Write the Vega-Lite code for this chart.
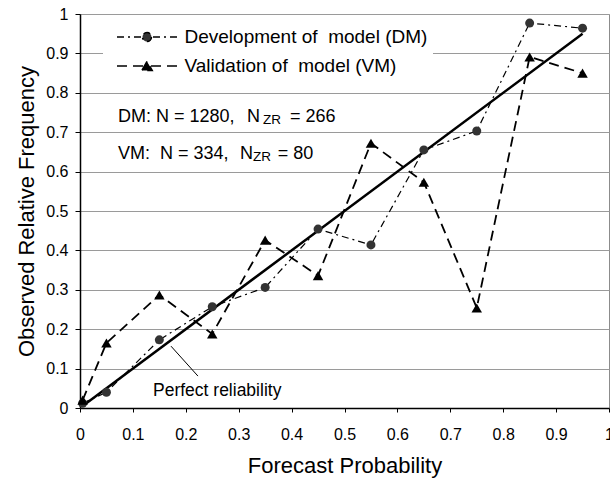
{
  "$schema": "https://vega.github.io/schema/vega-lite/v6.json",
  "width": 529,
  "height": 394,
  "autosize": {"type": "none"},
  "padding": {"left": 80, "top": 14, "right": 1, "bottom": 74},
  "background": "white",
  "config": {
    "font": "Liberation Sans",
    "view": {"stroke": "#8c8c8c", "strokeWidth": 1},
    "axis": {
      "labelFont": "Liberation Sans",
      "labelFontSize": 16,
      "labelColor": "black",
      "titleFont": "Liberation Sans",
      "titleFontSize": 22,
      "titleFontWeight": "normal",
      "titleColor": "black",
      "domainColor": "black",
      "tickColor": "black",
      "gridColor": "#9a9a9a",
      "gridWidth": 1
    }
  },
  "datasets": {
    "obs": [
      {"p": 0.005, "o": 0.012, "s": "DM"},
      {"p": 0.05, "o": 0.04, "s": "DM"},
      {"p": 0.15, "o": 0.173, "s": "DM"},
      {"p": 0.25, "o": 0.257, "s": "DM"},
      {"p": 0.35, "o": 0.306, "s": "DM"},
      {"p": 0.45, "o": 0.454, "s": "DM"},
      {"p": 0.55, "o": 0.414, "s": "DM"},
      {"p": 0.65, "o": 0.655, "s": "DM"},
      {"p": 0.75, "o": 0.703, "s": "DM"},
      {"p": 0.85, "o": 0.977, "s": "DM"},
      {"p": 0.95, "o": 0.964, "s": "DM"},
      {"p": 0.005, "o": 0.02, "s": "VM"},
      {"p": 0.05, "o": 0.165, "s": "VM"},
      {"p": 0.15, "o": 0.287, "s": "VM"},
      {"p": 0.25, "o": 0.188, "s": "VM"},
      {"p": 0.35, "o": 0.426, "s": "VM"},
      {"p": 0.45, "o": 0.336, "s": "VM"},
      {"p": 0.55, "o": 0.672, "s": "VM"},
      {"p": 0.65, "o": 0.573, "s": "VM"},
      {"p": 0.75, "o": 0.254, "s": "VM"},
      {"p": 0.85, "o": 0.891, "s": "VM"},
      {"p": 0.95, "o": 0.85, "s": "VM"}
    ],
    "perfect": [
      {"p": 0.005, "o": 0.005},
      {"p": 0.95, "o": 0.95}
    ]
  },
  "layer": [
    {
      "data": {"name": "obs"},
      "transform": [{"filter": "datum.s === 'DM'"}],
      "mark": {"type": "line", "color": "black", "strokeWidth": 1.2},
      "encoding": {
        "x": {"field": "p", "type": "quantitative", "scale": {"domain": [0, 1], "nice": false},
          "axis": {"title": "Forecast Probability", "values": [0, 0.1, 0.2, 0.3, 0.4, 0.5, 0.6, 0.7, 0.8, 0.9, 1], "format": "~g", "grid": false, "tickSize": 4, "labelPadding": 14, "domainWidth": 1.5, "titleY": 64, "titleBaseline": "alphabetic", "labelFlush": false, "labelOverlap": false}},
        "y": {"field": "o", "type": "quantitative", "scale": {"domain": [0, 1], "nice": false},
          "axis": {"title": "Observed Relative Frequency", "values": [0, 0.1, 0.2, 0.3, 0.4, 0.5, 0.6, 0.7, 0.8, 0.9, 1], "format": "~g", "grid": true, "tickSize": 5, "labelPadding": 7, "domainWidth": 1.5, "titleX": -47, "titleBaseline": "alphabetic", "labelFlush": false, "labelOverlap": false}},
        "strokeDash": {
          "field": "s", "type": "nominal",
          "scale": {"domain": ["DM", "VM"], "range": [[7, 4, 2, 4], [10, 6]]},
          "legend": {
            "orient": "none", "legendX": 23, "legendY": 8.5, "title": null, "direction": "vertical",
            "fillColor": "white", "padding": 5, "rowPadding": 9,
            "symbolSize": 100, "symbolStrokeWidth": 1.5, "symbolStrokeColor": "black",
            "symbolOffset": 29.5, "labelOffset": 28, "labelFontSize": 19, "labelLimit": 0,
            "labelFont": "Liberation Sans", "labelColor": "black",
            "labelExpr": "datum.value === 'DM' ? 'Development of\u00a0 model (DM)' : 'Validation of\u00a0 model (VM)'",
            "encode": {
              "symbols": {
                "update": {
                  "shape": {"signal": "datum.value === 'DM' ? 'M-6,0L-0.9,0M6,0L0.9,0M0.9,0A0.9,0.9,0,1,1,-0.9,0A0.9,0.9,0,1,1,0.9,0Z' : 'M-6,0L-0.5,0M6,0L0.5,0M0,-0.91L-1.05,0.91L1.05,0.91Z'"},
                  "fill": {"signal": "datum.value === 'DM' ? '#333333' : '#000000'"},
                  "stroke": {"value": "black"},
                  "strokeOpacity": {"value": 1},
                  "strokeWidth": {"value": 1.5},
                  "size": {"value": 100},
                  "opacity": {"value": 1}
                }
              }
            }
          }
        }
      }
    },
    {
      "data": {"name": "obs"},
      "transform": [{"filter": "datum.s === 'VM'"}],
      "mark": {"type": "line", "color": "black", "strokeWidth": 1.8},
      "encoding": {
        "x": {"field": "p", "type": "quantitative", "scale": {"domain": [0, 1], "nice": false},
          "axis": {"title": "Forecast Probability", "values": [0, 0.1, 0.2, 0.3, 0.4, 0.5, 0.6, 0.7, 0.8, 0.9, 1], "format": "~g", "grid": false, "tickSize": 4, "labelPadding": 14, "domainWidth": 1.5, "titleY": 64, "titleBaseline": "alphabetic", "labelFlush": false, "labelOverlap": false}},
        "y": {"field": "o", "type": "quantitative", "scale": {"domain": [0, 1], "nice": false},
          "axis": {"title": "Observed Relative Frequency", "values": [0, 0.1, 0.2, 0.3, 0.4, 0.5, 0.6, 0.7, 0.8, 0.9, 1], "format": "~g", "grid": true, "tickSize": 5, "labelPadding": 7, "domainWidth": 1.5, "titleX": -47, "titleBaseline": "alphabetic", "labelFlush": false, "labelOverlap": false}},
        "strokeDash": {
          "field": "s", "type": "nominal",
          "scale": {"domain": ["DM", "VM"], "range": [[7, 4, 2, 4], [10, 6]]},
          "legend": {
            "orient": "none", "legendX": 23, "legendY": 8.5, "title": null, "direction": "vertical",
            "fillColor": "white", "padding": 5, "rowPadding": 9,
            "symbolSize": 100, "symbolStrokeWidth": 1.5, "symbolStrokeColor": "black",
            "symbolOffset": 29.5, "labelOffset": 28, "labelFontSize": 19, "labelLimit": 0,
            "labelFont": "Liberation Sans", "labelColor": "black",
            "labelExpr": "datum.value === 'DM' ? 'Development of\u00a0 model (DM)' : 'Validation of\u00a0 model (VM)'",
            "encode": {
              "symbols": {
                "update": {
                  "shape": {"signal": "datum.value === 'DM' ? 'M-6,0L-0.9,0M6,0L0.9,0M0.9,0A0.9,0.9,0,1,1,-0.9,0A0.9,0.9,0,1,1,0.9,0Z' : 'M-6,0L-0.5,0M6,0L0.5,0M0,-0.91L-1.05,0.91L1.05,0.91Z'"},
                  "fill": {"signal": "datum.value === 'DM' ? '#333333' : '#000000'"},
                  "stroke": {"value": "black"},
                  "strokeOpacity": {"value": 1},
                  "strokeWidth": {"value": 1.5},
                  "size": {"value": 100},
                  "opacity": {"value": 1}
                }
              }
            }
          }
        }
      }
    },
    {
      "data": {"name": "perfect"},
      "mark": {"type": "line", "color": "black", "strokeWidth": 2.5},
      "encoding": {
        "x": {"field": "p", "type": "quantitative", "scale": {"domain": [0, 1], "nice": false},
          "axis": {"title": "Forecast Probability", "values": [0, 0.1, 0.2, 0.3, 0.4, 0.5, 0.6, 0.7, 0.8, 0.9, 1], "format": "~g", "grid": false, "tickSize": 4, "labelPadding": 14, "domainWidth": 1.5, "titleY": 64, "titleBaseline": "alphabetic", "labelFlush": false, "labelOverlap": false}},
        "y": {"field": "o", "type": "quantitative", "scale": {"domain": [0, 1], "nice": false},
          "axis": {"title": "Observed Relative Frequency", "values": [0, 0.1, 0.2, 0.3, 0.4, 0.5, 0.6, 0.7, 0.8, 0.9, 1], "format": "~g", "grid": true, "tickSize": 5, "labelPadding": 7, "domainWidth": 1.5, "titleX": -47, "titleBaseline": "alphabetic", "labelFlush": false, "labelOverlap": false}}
      }
    },
    {
      "data": {"name": "obs"},
      "transform": [{"filter": "datum.s === 'DM'"}],
      "mark": {"type": "point", "filled": true, "opacity": 1, "shape": "circle", "size": 81, "color": "#333333"},
      "encoding": {
        "x": {"field": "p", "type": "quantitative", "scale": {"domain": [0, 1], "nice": false},
          "axis": {"title": "Forecast Probability", "values": [0, 0.1, 0.2, 0.3, 0.4, 0.5, 0.6, 0.7, 0.8, 0.9, 1], "format": "~g", "grid": false, "tickSize": 4, "labelPadding": 14, "domainWidth": 1.5, "titleY": 64, "titleBaseline": "alphabetic", "labelFlush": false, "labelOverlap": false}},
        "y": {"field": "o", "type": "quantitative", "scale": {"domain": [0, 1], "nice": false},
          "axis": {"title": "Observed Relative Frequency", "values": [0, 0.1, 0.2, 0.3, 0.4, 0.5, 0.6, 0.7, 0.8, 0.9, 1], "format": "~g", "grid": true, "tickSize": 5, "labelPadding": 7, "domainWidth": 1.5, "titleX": -47, "titleBaseline": "alphabetic", "labelFlush": false, "labelOverlap": false}}
      }
    },
    {
      "data": {"name": "obs"},
      "transform": [{"filter": "datum.s === 'VM'"}],
      "mark": {"type": "point", "filled": true, "opacity": 1, "shape": "triangle-up", "size": 110, "color": "#000000"},
      "encoding": {
        "x": {"field": "p", "type": "quantitative", "scale": {"domain": [0, 1], "nice": false},
          "axis": {"title": "Forecast Probability", "values": [0, 0.1, 0.2, 0.3, 0.4, 0.5, 0.6, 0.7, 0.8, 0.9, 1], "format": "~g", "grid": false, "tickSize": 4, "labelPadding": 14, "domainWidth": 1.5, "titleY": 64, "titleBaseline": "alphabetic", "labelFlush": false, "labelOverlap": false}},
        "y": {"field": "o", "type": "quantitative", "scale": {"domain": [0, 1], "nice": false},
          "axis": {"title": "Observed Relative Frequency", "values": [0, 0.1, 0.2, 0.3, 0.4, 0.5, 0.6, 0.7, 0.8, 0.9, 1], "format": "~g", "grid": true, "tickSize": 5, "labelPadding": 7, "domainWidth": 1.5, "titleX": -47, "titleBaseline": "alphabetic", "labelFlush": false, "labelOverlap": false}}
      }
    },
    {
      "data": {"values": [{"from": "leader"}]},
      "mark": {"type": "rule", "color": "black", "strokeWidth": 1},
      "encoding": {
        "x": {"datum": 0.172, "type": "quantitative", "scale": {"domain": [0, 1], "nice": false},
          "axis": {"title": "Forecast Probability", "values": [0, 0.1, 0.2, 0.3, 0.4, 0.5, 0.6, 0.7, 0.8, 0.9, 1], "format": "~g", "grid": false, "tickSize": 4, "labelPadding": 14, "domainWidth": 1.5, "titleY": 64, "titleBaseline": "alphabetic", "labelFlush": false, "labelOverlap": false}},
        "y": {"datum": 0.157, "type": "quantitative", "scale": {"domain": [0, 1], "nice": false},
          "axis": {"title": "Observed Relative Frequency", "values": [0, 0.1, 0.2, 0.3, 0.4, 0.5, 0.6, 0.7, 0.8, 0.9, 1], "format": "~g", "grid": true, "tickSize": 5, "labelPadding": 7, "domainWidth": 1.5, "titleX": -47, "titleBaseline": "alphabetic", "labelFlush": false, "labelOverlap": false}},
        "x2": {"datum": 0.223},
        "y2": {"datum": 0.081}
      }
    },
    {
      "data": {"values": [
        {"t": "Perfect reliability", "k": "a"}
      ]},
      "mark": {"type": "text", "align": "left", "baseline": "alphabetic", "fontSize": 17.5, "font": "Liberation Sans", "color": "black"},
      "encoding": {
        "text": {"field": "t"},
        "x": {"datum": 0.138, "type": "quantitative", "scale": {"domain": [0, 1], "nice": false},
          "axis": {"title": "Forecast Probability", "values": [0, 0.1, 0.2, 0.3, 0.4, 0.5, 0.6, 0.7, 0.8, 0.9, 1], "format": "~g", "grid": false, "tickSize": 4, "labelPadding": 14, "domainWidth": 1.5, "titleY": 64, "titleBaseline": "alphabetic", "labelFlush": false, "labelOverlap": false}},
        "y": {"datum": 0.03, "type": "quantitative", "scale": {"domain": [0, 1], "nice": false},
          "axis": {"title": "Observed Relative Frequency", "values": [0, 0.1, 0.2, 0.3, 0.4, 0.5, 0.6, 0.7, 0.8, 0.9, 1], "format": "~g", "grid": true, "tickSize": 5, "labelPadding": 7, "domainWidth": 1.5, "titleX": -47, "titleBaseline": "alphabetic", "labelFlush": false, "labelOverlap": false}}
      }
    },
    {
      "data": {"values": [{"t": "DM: N = 1280,"}]},
      "mark": {"type": "text", "align": "left", "baseline": "alphabetic", "fontSize": 18, "font": "Liberation Sans", "color": "black"},
      "encoding": {
        "text": {"field": "t"},
        "x": {"datum": 0.0718, "type": "quantitative", "scale": {"domain": [0, 1], "nice": false},
          "axis": {"title": "Forecast Probability", "values": [0, 0.1, 0.2, 0.3, 0.4, 0.5, 0.6, 0.7, 0.8, 0.9, 1], "format": "~g", "grid": false, "tickSize": 4, "labelPadding": 14, "domainWidth": 1.5, "titleY": 64, "titleBaseline": "alphabetic", "labelFlush": false, "labelOverlap": false}},
        "y": {"datum": 0.726, "type": "quantitative", "scale": {"domain": [0, 1], "nice": false},
          "axis": {"title": "Observed Relative Frequency", "values": [0, 0.1, 0.2, 0.3, 0.4, 0.5, 0.6, 0.7, 0.8, 0.9, 1], "format": "~g", "grid": true, "tickSize": 5, "labelPadding": 7, "domainWidth": 1.5, "titleX": -47, "titleBaseline": "alphabetic", "labelFlush": false, "labelOverlap": false}}
      }
    },
    {
      "data": {"values": [{"t": "N"}]},
      "mark": {"type": "text", "align": "left", "baseline": "alphabetic", "fontSize": 18, "font": "Liberation Sans", "color": "black"},
      "encoding": {
        "text": {"field": "t"},
        "x": {"datum": 0.3157, "type": "quantitative", "scale": {"domain": [0, 1], "nice": false},
          "axis": {"title": "Forecast Probability", "values": [0, 0.1, 0.2, 0.3, 0.4, 0.5, 0.6, 0.7, 0.8, 0.9, 1], "format": "~g", "grid": false, "tickSize": 4, "labelPadding": 14, "domainWidth": 1.5, "titleY": 64, "titleBaseline": "alphabetic", "labelFlush": false, "labelOverlap": false}},
        "y": {"datum": 0.726, "type": "quantitative", "scale": {"domain": [0, 1], "nice": false},
          "axis": {"title": "Observed Relative Frequency", "values": [0, 0.1, 0.2, 0.3, 0.4, 0.5, 0.6, 0.7, 0.8, 0.9, 1], "format": "~g", "grid": true, "tickSize": 5, "labelPadding": 7, "domainWidth": 1.5, "titleX": -47, "titleBaseline": "alphabetic", "labelFlush": false, "labelOverlap": false}}
      }
    },
    {
      "data": {"values": [{"t": "ZR"}]},
      "mark": {"type": "text", "align": "left", "baseline": "alphabetic", "fontSize": 13.5, "font": "Liberation Sans", "color": "black"},
      "encoding": {
        "text": {"field": "t"},
        "x": {"datum": 0.346, "type": "quantitative", "scale": {"domain": [0, 1], "nice": false},
          "axis": {"title": "Forecast Probability", "values": [0, 0.1, 0.2, 0.3, 0.4, 0.5, 0.6, 0.7, 0.8, 0.9, 1], "format": "~g", "grid": false, "tickSize": 4, "labelPadding": 14, "domainWidth": 1.5, "titleY": 64, "titleBaseline": "alphabetic", "labelFlush": false, "labelOverlap": false}},
        "y": {"datum": 0.721, "type": "quantitative", "scale": {"domain": [0, 1], "nice": false},
          "axis": {"title": "Observed Relative Frequency", "values": [0, 0.1, 0.2, 0.3, 0.4, 0.5, 0.6, 0.7, 0.8, 0.9, 1], "format": "~g", "grid": true, "tickSize": 5, "labelPadding": 7, "domainWidth": 1.5, "titleX": -47, "titleBaseline": "alphabetic", "labelFlush": false, "labelOverlap": false}}
      }
    },
    {
      "data": {"values": [{"t": "= 266"}]},
      "mark": {"type": "text", "align": "left", "baseline": "alphabetic", "fontSize": 18, "font": "Liberation Sans", "color": "black"},
      "encoding": {
        "text": {"field": "t"},
        "x": {"datum": 0.397, "type": "quantitative", "scale": {"domain": [0, 1], "nice": false},
          "axis": {"title": "Forecast Probability", "values": [0, 0.1, 0.2, 0.3, 0.4, 0.5, 0.6, 0.7, 0.8, 0.9, 1], "format": "~g", "grid": false, "tickSize": 4, "labelPadding": 14, "domainWidth": 1.5, "titleY": 64, "titleBaseline": "alphabetic", "labelFlush": false, "labelOverlap": false}},
        "y": {"datum": 0.726, "type": "quantitative", "scale": {"domain": [0, 1], "nice": false},
          "axis": {"title": "Observed Relative Frequency", "values": [0, 0.1, 0.2, 0.3, 0.4, 0.5, 0.6, 0.7, 0.8, 0.9, 1], "format": "~g", "grid": true, "tickSize": 5, "labelPadding": 7, "domainWidth": 1.5, "titleX": -47, "titleBaseline": "alphabetic", "labelFlush": false, "labelOverlap": false}}
      }
    },
    {
      "data": {"values": [{"t": "VM:\u00a0 N = 334,"}]},
      "mark": {"type": "text", "align": "left", "baseline": "alphabetic", "fontSize": 18, "font": "Liberation Sans", "color": "black"},
      "encoding": {
        "text": {"field": "t"},
        "x": {"datum": 0.0718, "type": "quantitative", "scale": {"domain": [0, 1], "nice": false},
          "axis": {"title": "Forecast Probability", "values": [0, 0.1, 0.2, 0.3, 0.4, 0.5, 0.6, 0.7, 0.8, 0.9, 1], "format": "~g", "grid": false, "tickSize": 4, "labelPadding": 14, "domainWidth": 1.5, "titleY": 64, "titleBaseline": "alphabetic", "labelFlush": false, "labelOverlap": false}},
        "y": {"datum": 0.632, "type": "quantitative", "scale": {"domain": [0, 1], "nice": false},
          "axis": {"title": "Observed Relative Frequency", "values": [0, 0.1, 0.2, 0.3, 0.4, 0.5, 0.6, 0.7, 0.8, 0.9, 1], "format": "~g", "grid": true, "tickSize": 5, "labelPadding": 7, "domainWidth": 1.5, "titleX": -47, "titleBaseline": "alphabetic", "labelFlush": false, "labelOverlap": false}}
      }
    },
    {
      "data": {"values": [{"t": "N"}]},
      "mark": {"type": "text", "align": "left", "baseline": "alphabetic", "fontSize": 18, "font": "Liberation Sans", "color": "black"},
      "encoding": {
        "text": {"field": "t"},
        "x": {"datum": 0.3025, "type": "quantitative", "scale": {"domain": [0, 1], "nice": false},
          "axis": {"title": "Forecast Probability", "values": [0, 0.1, 0.2, 0.3, 0.4, 0.5, 0.6, 0.7, 0.8, 0.9, 1], "format": "~g", "grid": false, "tickSize": 4, "labelPadding": 14, "domainWidth": 1.5, "titleY": 64, "titleBaseline": "alphabetic", "labelFlush": false, "labelOverlap": false}},
        "y": {"datum": 0.632, "type": "quantitative", "scale": {"domain": [0, 1], "nice": false},
          "axis": {"title": "Observed Relative Frequency", "values": [0, 0.1, 0.2, 0.3, 0.4, 0.5, 0.6, 0.7, 0.8, 0.9, 1], "format": "~g", "grid": true, "tickSize": 5, "labelPadding": 7, "domainWidth": 1.5, "titleX": -47, "titleBaseline": "alphabetic", "labelFlush": false, "labelOverlap": false}}
      }
    },
    {
      "data": {"values": [{"t": "ZR"}]},
      "mark": {"type": "text", "align": "left", "baseline": "alphabetic", "fontSize": 13.5, "font": "Liberation Sans", "color": "black"},
      "encoding": {
        "text": {"field": "t"},
        "x": {"datum": 0.327, "type": "quantitative", "scale": {"domain": [0, 1], "nice": false},
          "axis": {"title": "Forecast Probability", "values": [0, 0.1, 0.2, 0.3, 0.4, 0.5, 0.6, 0.7, 0.8, 0.9, 1], "format": "~g", "grid": false, "tickSize": 4, "labelPadding": 14, "domainWidth": 1.5, "titleY": 64, "titleBaseline": "alphabetic", "labelFlush": false, "labelOverlap": false}},
        "y": {"datum": 0.627, "type": "quantitative", "scale": {"domain": [0, 1], "nice": false},
          "axis": {"title": "Observed Relative Frequency", "values": [0, 0.1, 0.2, 0.3, 0.4, 0.5, 0.6, 0.7, 0.8, 0.9, 1], "format": "~g", "grid": true, "tickSize": 5, "labelPadding": 7, "domainWidth": 1.5, "titleX": -47, "titleBaseline": "alphabetic", "labelFlush": false, "labelOverlap": false}}
      }
    },
    {
      "data": {"values": [{"t": "= 80"}]},
      "mark": {"type": "text", "align": "left", "baseline": "alphabetic", "fontSize": 18, "font": "Liberation Sans", "color": "black"},
      "encoding": {
        "text": {"field": "t"},
        "x": {"datum": 0.374, "type": "quantitative", "scale": {"domain": [0, 1], "nice": false},
          "axis": {"title": "Forecast Probability", "values": [0, 0.1, 0.2, 0.3, 0.4, 0.5, 0.6, 0.7, 0.8, 0.9, 1], "format": "~g", "grid": false, "tickSize": 4, "labelPadding": 14, "domainWidth": 1.5, "titleY": 64, "titleBaseline": "alphabetic", "labelFlush": false, "labelOverlap": false}},
        "y": {"datum": 0.632, "type": "quantitative", "scale": {"domain": [0, 1], "nice": false},
          "axis": {"title": "Observed Relative Frequency", "values": [0, 0.1, 0.2, 0.3, 0.4, 0.5, 0.6, 0.7, 0.8, 0.9, 1], "format": "~g", "grid": true, "tickSize": 5, "labelPadding": 7, "domainWidth": 1.5, "titleX": -47, "titleBaseline": "alphabetic", "labelFlush": false, "labelOverlap": false}}
      }
    }
  ]
}
